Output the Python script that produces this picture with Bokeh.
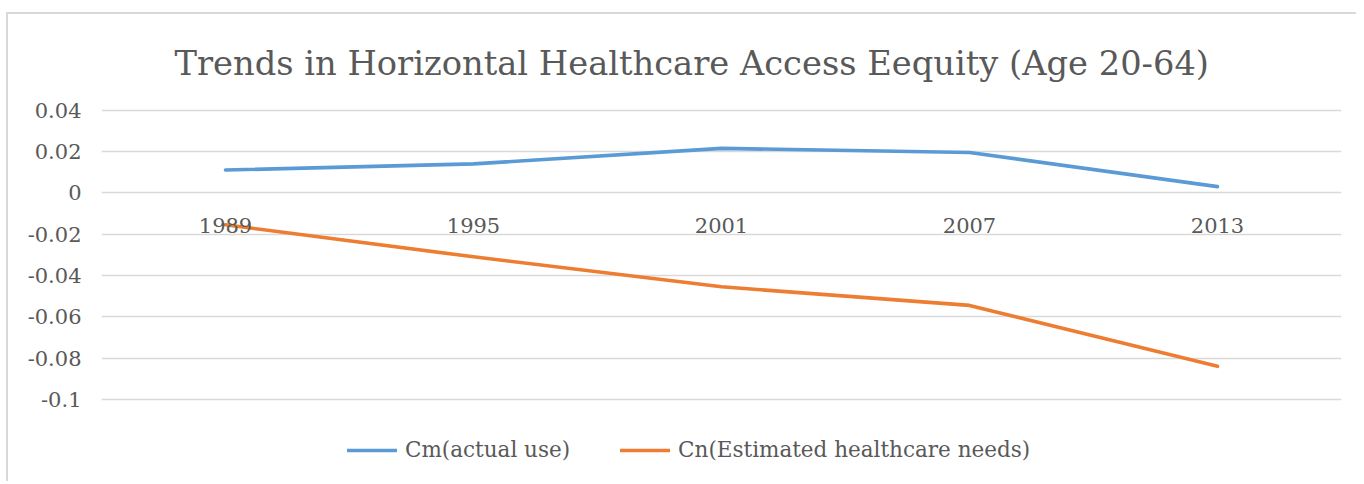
from bokeh.plotting import figure
from bokeh.models import Legend, LegendItem, FixedTicker, Title
from bokeh.core.properties import value
from bokeh.embed import file_html
from bokeh.resources import INLINE

years = ["1989", "1995", "2001", "2007", "2013"]
cm_actual = [0.011, 0.014, 0.0215, 0.0195, 0.003]
cn_needs = [-0.0155, -0.031, -0.0455, -0.0545, -0.084]
y_ticks = [-0.1, -0.08, -0.06, -0.04, -0.02, 0, 0.02, 0.04]
y_tick_labels = ["-0.1", "-0.08", "-0.06", "-0.04", "-0.02", "0", "0.02", "0.04"]
title_text = "Trends in Horizontal Healthcare Access Eequity (Age 20-64)"
series_names = ["Cm(actual use)", "Cn(Estimated healthcare needs)"]

FONT = "DejaVu Serif"
GREY = "#595959"

p = figure(width=1350, height=469, x_range=years, y_range=(-0.132, 0.0408),
           output_backend="svg", toolbar_location=None,
           min_border_left=93, min_border_right=17,
           min_border_top=94, min_border_bottom=18,
           styles={"border-top": "2px solid #d9d9d9", "border-left": "2px solid #d9d9d9",
                   "margin-left": "6px", "margin-top": "12px"})
p.outline_line_color = None

t = Title(text=title_text, align="left", text_font=FONT, text_font_size="33.7px",
          text_font_style="normal", text_color=GREY, standoff=52, offset=73)
p.add_layout(t, "above")

p.xaxis.visible = False
p.xgrid.visible = False
p.ygrid.grid_line_color = "#d9d9d9"
p.ygrid.grid_line_width = 1.3

yax = p.yaxis[0]
yax.ticker = FixedTicker(ticks=y_ticks)
yax.major_label_overrides = {tk: lb for tk, lb in zip(y_ticks, y_tick_labels)}
yax.axis_line_color = None
yax.major_tick_line_color = None
yax.minor_tick_line_color = None
yax.major_label_standoff = 14
yax.major_label_text_font = FONT
yax.major_label_text_font_size = "21px"
yax.major_label_text_color = GREY

r1 = p.line(years, cm_actual, line_color="#5B9BD5", line_width=3.6, line_cap="round", line_join="round")
r2 = p.line(years, cn_needs, line_color="#ED7D31", line_width=3.6, line_cap="round", line_join="round")

p.text(x=years, y=[0] * len(years), text=years, text_align="center", text_baseline="middle",
       y_offset=33, text_font=value(FONT), text_font_size="21px", text_color=GREY)

legend = Legend(items=[LegendItem(label=series_names[0], renderers=[r1]),
                       LegendItem(label=series_names[1], renderers=[r2])],
                orientation="horizontal", location=(246, 3),
                glyph_width=50, glyph_height=20, label_standoff=8, spacing=50,
                padding=0, margin=0, border_line_color=None, background_fill_alpha=0,
                label_text_font=FONT, label_text_font_size="21.5px", label_text_color=GREY)
p.add_layout(legend, "center")

open("out.html", "w").write(file_html(p, INLINE))
